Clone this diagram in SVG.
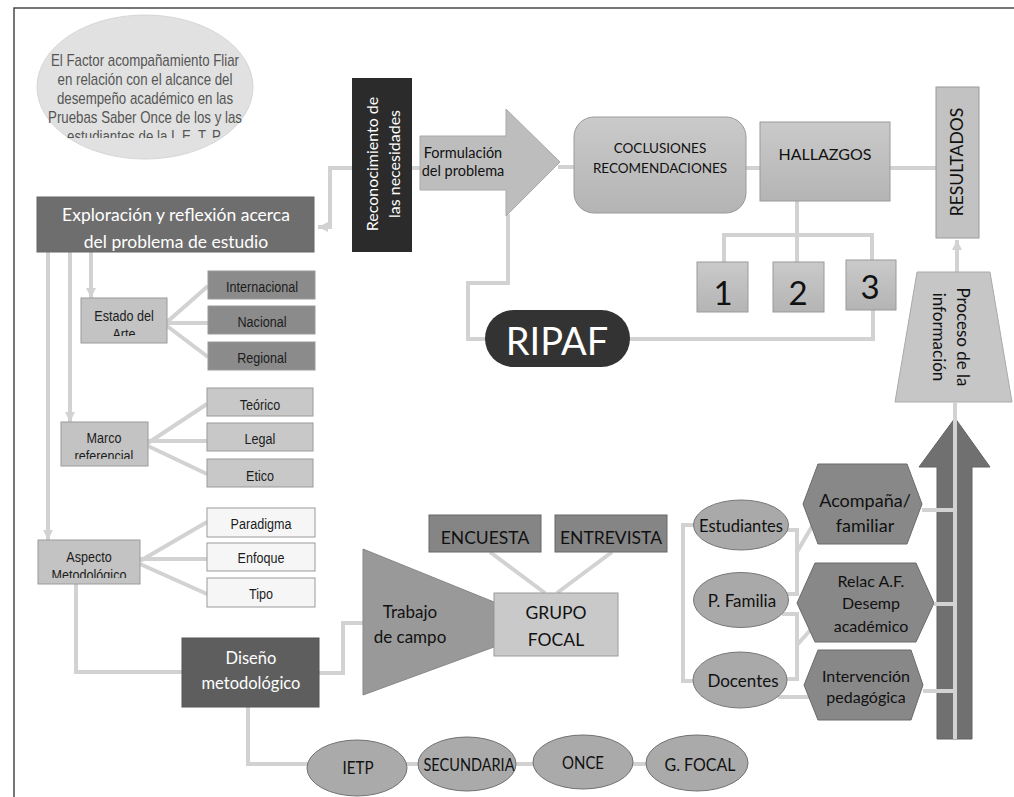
<svg xmlns="http://www.w3.org/2000/svg" width="1014" height="797" viewBox="0 0 1014 797">
<style>
.ln{fill:none;stroke:#d2d2d2;stroke-width:4}
.cal{font-family:Lato,"Open Sans","Noto Sans",sans-serif;fill:#111}
.nar{font-family:"Liberation Sans",Arial,sans-serif;fill:#1c1c1c;font-size:15px;text-anchor:middle}
.mid{text-anchor:middle}
.bx{stroke:#9a9a9a;stroke-width:1}
.gr1{fill:url(#g1)}
</style>
<defs>
<linearGradient id="g1" x1="0" y1="0" x2="0" y2="1"><stop offset="0" stop-color="#cacaca"/><stop offset="1" stop-color="#b4b4b4"/></linearGradient>
<marker id="ah" viewBox="0 0 10 10" refX="10" refY="5" markerWidth="10" markerHeight="10" markerUnits="userSpaceOnUse" orient="auto"><path d="M0,0 L10,5 L0,10 z" fill="#d2d2d2"/></marker>
<clipPath id="cpEll"><rect x="30" y="10" width="230" height="128"/></clipPath>
<clipPath id="cpExp"><rect x="37" y="197" width="277" height="54"/></clipPath>
<clipPath id="cpEst"><rect x="81" y="298" width="86" height="38"/></clipPath>
<clipPath id="cpMar"><rect x="61" y="422" width="87" height="37"/></clipPath>
<clipPath id="cpAsp"><rect x="38" y="540" width="102" height="38"/></clipPath>
<clipPath id="cpReg"><rect x="208" y="342" width="107" height="24"/></clipPath>
<clipPath id="cpLeg"><rect x="207" y="423" width="106" height="24"/></clipPath>
<clipPath id="cpPar"><rect x="207" y="508" width="108" height="24"/></clipPath>
<clipPath id="cpEnf"><rect x="207" y="543" width="108" height="23"/></clipPath>
<clipPath id="cpTip"><rect x="207" y="578" width="108" height="24"/></clipPath>
</defs>
<rect width="1014" height="797" fill="#fff"/>
<path d="M14,797 V8 H1014" fill="none" stroke="#4a4a4a" stroke-width="1.5"/>

<g id="connectors">
<path class="ln" d="M420,168 H330 V227 H318" marker-end="url(#ah)"/>
<path class="ln" d="M558,167 H574"/>
<path class="ln" d="M508,214 V283 H468 V339 H487"/>
<path class="ln" d="M628,339 H873 V310"/>
<path class="ln" d="M746,168 H760 M890,168 H936"/>
<path class="ln" d="M797,201 V262 M724,262 V235 H872 V260"/>
<path class="ln" d="M957,272 V240" marker-end="url(#ah)"/>
<path class="ln" d="M91,252 V298" marker-end="url(#ah)"/>
<path class="ln" d="M70,252 V422" marker-end="url(#ah)"/>
<path class="ln" d="M48,252 V540" marker-end="url(#ah)"/>
<path class="ln" d="M167,322 L208,286 M167,323 H208 M167,326 L208,357"/>
<path class="ln" d="M148,443 L207,404 M148,441 H207 M148,446 L207,474"/>
<path class="ln" d="M140,561 L207,522 M140,559 H207 M140,564 L207,594"/>
<path class="ln" d="M76,584 V672 H182"/>
<path class="ln" d="M319,673 H343 V623 H365"/>
<path class="ln" d="M248,707 V764 H697"/>
<path class="ln" d="M490,552 L545,593 M612,552 L557,593"/>
<path class="ln" d="M694,525 H683 V681 H694"/>
<path class="ln" d="M786,530 H797 V594 H787 M797,552 L814,523"/>
<path class="ln" d="M782,614 H797 V679 H786 M797,645 L814,626"/>
<path class="ln" d="M778,697 H812"/>
</g>

<g id="n-ellipse">
<ellipse cx="145" cy="87" rx="108" ry="72" fill="#e1e1e1" stroke="#d6d6d6"/>
<g clip-path="url(#cpEll)">
<g transform="matrix(0.83,0,0,1,145,0)" class="nar" style="font-size:16px;fill:#555">
<text x="0" y="66">El Factor acompañamiento Fliar</text>
<text x="0" y="85">en relación con el alcance del</text>
<text x="0" y="104">desempeño académico en las</text>
<text x="0" y="123">Pruebas Saber Once de los y las</text>
<text x="0" y="142">estudiantes de la I. E. T. P.</text>
</g>
</g>
</g>

<g id="n-exploracion">
<rect x="37" y="197" width="277" height="55" fill="#6e6e6e" stroke="#666"/>
<g clip-path="url(#cpExp)" class="cal mid" font-size="17.5">
<text x="176" y="221" style="fill:#fff">Exploración y reflexión acerca</text>
<text x="176" y="248" style="fill:#fff">del problema de estudio</text>
</g>
</g>

<g id="n-reconocimiento">
<rect x="352" y="78" width="60" height="174" fill="#2b2b2b"/>
<text class="cal mid" font-size="16" style="fill:#fff" transform="translate(378,164) rotate(-90)">Reconocimiento de</text>
<text class="cal mid" font-size="16" style="fill:#fff" transform="translate(400,164) rotate(-90)">las necesidades</text>
</g>

<g id="n-formulacion">
<polygon points="420,136 506,136 506,109 560,162 506,216 506,190 420,190" fill="#bdbdbd" stroke="#aaa"/>
<text x="463" y="158" class="cal mid" font-size="14.5">Formulación</text>
<text x="463" y="176" class="cal mid" font-size="14.5">del problema</text>
</g>

<g id="n-conclusiones">
<rect x="574" y="117" width="172" height="96" rx="20" class="gr1 bx"/>
<text x="660" y="153" class="cal mid" font-size="13.5">COCLUSIONES</text>
<text x="660" y="173" class="cal mid" font-size="13.5">RECOMENDACIONES</text>
</g>

<g id="n-hallazgos">
<rect x="760" y="122" width="130" height="79" class="gr1 bx"/>
<text x="825" y="160" class="cal mid" font-size="16">HALLAZGOS</text>
</g>

<g id="n-1"><rect x="697" y="262" width="51" height="50" class="gr1 bx"/><text x="723" y="305" class="cal mid" font-size="33">1</text></g>
<g id="n-2"><rect x="773" y="262" width="51" height="50" class="gr1 bx"/><text x="798" y="305" class="cal mid" font-size="33">2</text></g>
<g id="n-3"><rect x="846" y="260" width="50" height="50" class="gr1 bx"/><text x="870" y="299" class="cal mid" font-size="33">3</text></g>

<g id="n-resultados">
<rect x="936" y="87" width="43" height="151" fill="#c2c2c2" class="bx"/>
<text class="cal mid" font-size="17.5" transform="translate(963,162) rotate(-90)">RESULTADOS</text>
</g>

<g id="n-ripaf">
<rect x="485" y="310" width="145" height="57" rx="28.5" fill="#333"/>
<text x="557" y="355" class="cal mid" font-size="38" style="fill:#fff">RIPAF</text>
</g>

<g id="n-proceso">
<polygon points="917,272 990,272 1012,402 895,402" fill="#c6c6c6" stroke="#aaa"/>
<text class="cal mid" font-size="17" transform="translate(957,337) rotate(90)">Proceso de la</text>
<text class="cal mid" font-size="17" transform="translate(933,337) rotate(90)">información</text>
</g>

<g id="n-bigarrow">
<polygon points="955,418 990,467 972,467 972,739 937,739 937,467 919,467" fill="#707070" stroke="#636363"/>
</g>

<g id="n-estado">
<rect x="81" y="298" width="86" height="45" fill="#c3c3c3" class="bx"/>
<g clip-path="url(#cpEst)"><text class="nar" transform="matrix(0.84,0,0,1,124,321)">Estado del</text><text class="nar" transform="matrix(0.84,0,0,1,124,339)">Arte</text></g>
</g>
<g id="n-internacional"><rect x="208" y="271" width="107" height="28" fill="#8b8b8b" class="bx"/><text class="nar" transform="matrix(0.84,0,0,1,262,292)">Internacional</text></g>
<g id="n-nacional"><rect x="208" y="306" width="107" height="28" fill="#8b8b8b" class="bx"/><text class="nar" transform="matrix(0.84,0,0,1,262,327)">Nacional</text></g>
<g id="n-regional"><rect x="208" y="342" width="107" height="28" fill="#8b8b8b" class="bx"/><g clip-path="url(#cpReg)"><text class="nar" transform="matrix(0.84,0,0,1,262,363)">Regional</text></g></g>

<g id="n-marco">
<rect x="61" y="422" width="87" height="44" fill="#c3c3c3" class="bx"/>
<g clip-path="url(#cpMar)"><text class="nar" transform="matrix(0.84,0,0,1,104,443)">Marco</text><text class="nar" transform="matrix(0.84,0,0,1,104,461)">referencial</text></g>
</g>
<g id="n-teorico"><rect x="207" y="388" width="106" height="28" fill="#c8c8c8" class="bx"/><text class="nar" transform="matrix(0.84,0,0,1,260,410)">Teórico</text></g>
<g id="n-legal"><rect x="207" y="423" width="106" height="28" fill="#c8c8c8" class="bx"/><g clip-path="url(#cpLeg)"><text class="nar" transform="matrix(0.84,0,0,1,260,444)">Legal</text></g></g>
<g id="n-etico"><rect x="207" y="459" width="106" height="28" fill="#c8c8c8" class="bx"/><text class="nar" transform="matrix(0.84,0,0,1,260,481)">Etico</text></g>

<g id="n-aspecto">
<rect x="38" y="540" width="102" height="44" fill="#c3c3c3" class="bx"/>
<g clip-path="url(#cpAsp)"><text class="nar" transform="matrix(0.84,0,0,1,89,562)">Aspecto</text><text class="nar" transform="matrix(0.84,0,0,1,89,580)">Metodológico</text></g>
</g>
<g id="n-paradigma"><rect x="207" y="508" width="108" height="29" fill="#f6f6f6" class="bx"/><g clip-path="url(#cpPar)"><text class="nar" transform="matrix(0.84,0,0,1,261,529)">Paradigma</text></g></g>
<g id="n-enfoque"><rect x="207" y="543" width="108" height="28" fill="#f6f6f6" class="bx"/><g clip-path="url(#cpEnf)"><text class="nar" transform="matrix(0.84,0,0,1,261,563)">Enfoque</text></g></g>
<g id="n-tipo"><rect x="207" y="578" width="108" height="29" fill="#f6f6f6" class="bx"/><g clip-path="url(#cpTip)"><text class="nar" transform="matrix(0.84,0,0,1,261,599)">Tipo</text></g></g>

<g id="n-diseno">
<rect x="182" y="638" width="137" height="69" fill="#5e5e5e" stroke="#555"/>
<text x="251" y="664" class="cal mid" font-size="16.5" style="fill:#fff">Diseño</text>
<text x="251" y="689" class="cal mid" font-size="16.5" style="fill:#fff">metodológico</text>
</g>

<g id="n-trabajo">
<polygon points="363,549 494,602 494,647 363,695" fill="#999" stroke="#888"/>
<text x="410" y="618" class="cal mid" font-size="17">Trabajo</text>
<text x="410" y="643" class="cal mid" font-size="17">de campo</text>
</g>

<g id="n-grupo">
<rect x="494" y="593" width="124" height="63" fill="#c9c9c9" class="bx"/>
<text x="556" y="619" class="cal mid" font-size="17.5">GRUPO</text>
<text x="556" y="646" class="cal mid" font-size="17.5">FOCAL</text>
</g>
<g id="n-encuesta"><rect x="429" y="515" width="112" height="37" fill="#858585" stroke="#666"/><text x="485" y="544" class="cal mid" font-size="17.5">ENCUESTA</text></g>
<g id="n-entrevista"><rect x="555" y="515" width="112" height="37" fill="#858585" stroke="#666"/><text x="611" y="544" class="cal mid" font-size="17.5">ENTREVISTA</text></g>

<g id="n-estudiantes"><ellipse cx="741" cy="525" rx="47.5" ry="25" fill="#a9a9a9" stroke="#777"/><text x="741" y="532" class="cal mid" font-size="16.5">Estudiantes</text></g>
<g id="n-pfamilia"><ellipse cx="741" cy="600" rx="47.5" ry="27.5" fill="#a9a9a9" stroke="#777"/><text x="742" y="607" class="cal mid" font-size="17">P. Familia</text></g>
<g id="n-docentes"><ellipse cx="740" cy="680" rx="47" ry="28" fill="#a9a9a9" stroke="#777"/><text x="743" y="687" class="cal mid" font-size="17">Docentes</text></g>

<g id="n-acompana"><polygon points="803,504 818,464 907,464 922,504 907,544 818,544" fill="#888" stroke="#6a6a6a"/>
<text x="865" y="507" class="cal mid" font-size="18">Acompaña/</text><text x="865" y="532" class="cal mid" font-size="18">familiar</text></g>
<g id="n-relac"><polygon points="797,603 815,563 916,563 934,603 916,642 815,642" fill="#888" stroke="#6a6a6a"/>
<text x="871" y="587" class="cal mid" font-size="16">Relac A.F.</text><text x="871" y="609" class="cal mid" font-size="16">Desemp</text><text x="871" y="632" class="cal mid" font-size="16">académico</text></g>
<g id="n-intervencion"><polygon points="804,685 818,650 911,650 923,685 911,720 818,720" fill="#888" stroke="#6a6a6a"/>
<text x="866" y="682" class="cal mid" font-size="16">Intervención</text><text x="866" y="703" class="cal mid" font-size="16">pedagógica</text></g>

<g id="n-ietp"><ellipse cx="357" cy="768" rx="50" ry="28" fill="#aaa" stroke="#707070"/><text x="358" y="774" class="cal mid" font-size="18" textLength="31" lengthAdjust="spacingAndGlyphs">IETP</text></g>
<g id="n-secundaria"><ellipse cx="467" cy="764" rx="49" ry="27" fill="#aaa" stroke="#707070"/><text x="469" y="771" class="cal mid" font-size="18" textLength="91" lengthAdjust="spacingAndGlyphs">SECUNDARIA</text></g>
<g id="n-once"><ellipse cx="583" cy="762" rx="50" ry="27" fill="#aaa" stroke="#707070"/><text x="583" y="769" class="cal mid" font-size="18" textLength="42" lengthAdjust="spacingAndGlyphs">ONCE</text></g>
<g id="n-gfocal"><ellipse cx="697" cy="763" rx="51" ry="28" fill="#aaa" stroke="#707070"/><text x="700" y="771" class="cal mid" font-size="18" textLength="71" lengthAdjust="spacingAndGlyphs">G. FOCAL</text></g>

<g id="connectors-front">
<path class="ln" d="M955,402 V739"/>
<path class="ln" d="M922,510 H955 M934,604 H955 M923,691 H955"/>
</g>
</svg>
